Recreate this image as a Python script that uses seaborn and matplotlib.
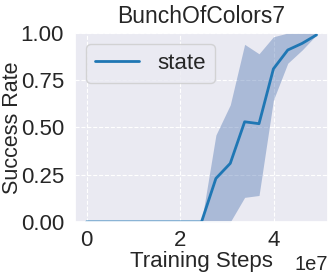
import matplotlib.pyplot as plt
import numpy as np
import pandas as pd
import seaborn as sns

# training steps (units of 1e7 on the axis)
steps = [0.0, 0.307, 0.614, 0.921, 1.228, 1.535, 1.842, 2.149, 2.456,
         2.763, 3.07, 3.377, 3.684, 3.991, 4.298, 4.605, 4.912]
mean_rate = [0, 0, 0, 0, 0, 0, 0, 0, 0, 0.23, 0.31, 0.53, 0.52, 0.81, 0.91, 0.945, 0.99]
upper_rate = [0, 0, 0, 0, 0, 0, 0, 0, 0, 0.46, 0.62, 0.94, 0.89, 0.98, 1.0, 1.0, 1.0]
lower_rate = [0, 0, 0, 0, 0, 0, 0, 0, 0, 0, 0, 0.13, 0.14, 0.645, 0.84, 0.91, 0.99]

sns.set_theme(style="darkgrid", rc={"grid.linestyle": "--", "grid.linewidth": 0.8})
plt.rcParams.update({"font.family": ["Liberation Sans", "DejaVu Sans"]})

df = pd.DataFrame({"step": np.array(steps) * 1e7, "rate": mean_rate})

fig, ax = plt.subplots(figsize=(3.32, 2.75), dpi=100)
ax.fill_between(df["step"], lower_rate, upper_rate, color="#4c72b0", alpha=0.4, linewidth=0)
sns.lineplot(data=df, x="step", y="rate", color="#1f77b4", linewidth=2, label="state", ax=ax)

ax.set_ylim(0, 1)
ax.set_yticks([0, 0.25, 0.5, 0.75, 1.0])
ax.set_xticks([0, 2e7, 4e7])
ax.tick_params(labelsize=16)
ax.tick_params(axis="x", pad=0)
ax.tick_params(axis="y", pad=2)
ax.xaxis.get_offset_text().set_fontsize(14.5)
ax.set_title("BunchOfColors7", fontsize=16.5, pad=7)
ax.set_xlabel("Training Steps", fontsize=16, labelpad=0)
ax.set_ylabel("Success Rate", fontsize=15.5)
ax.yaxis.set_label_coords(-0.207, 0.5)
ax.legend(loc="upper left", fontsize=16)

fig.subplots_adjust(left=0.226, right=0.988, top=0.88, bottom=0.193)
fig.savefig("out.png", dpi=100)
